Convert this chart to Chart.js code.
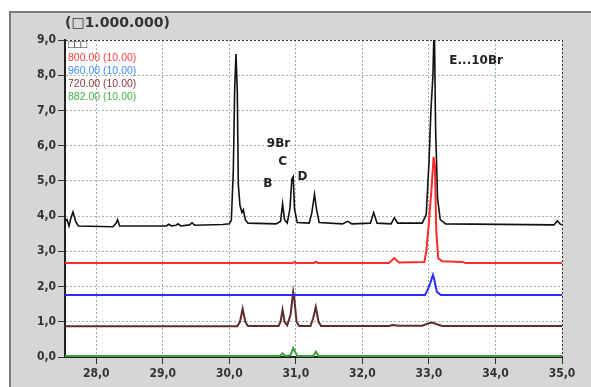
<!DOCTYPE html>
<html>
<head>
<meta charset="utf-8">
<script src="https://cdn.jsdelivr.net/npm/chart.js@4/dist/chart.umd.min.js"></script>
<style>
    html, body { margin: 0; padding: 0; background: #fff; }
    #chart { display: block; }
</style>
</head>
<body>
<canvas id="chart" width="591" height="387"></canvas>
<script>
/* ── Data (intensity in units of 1.000.000, retention time in min) ── */
const xTicks = [28, 29, 30, 31, 32, 33, 34, 35];
const yTicks = [0, 1, 2, 3, 4, 5, 6, 7, 8, 9];

// TIC (black)
const ticX = [27.53, 27.56, 27.59, 27.62, 27.65, 27.69, 27.73, 28.25, 28.30, 28.32, 28.35,
    29.05, 29.09, 29.13, 29.20, 29.23, 29.27, 29.40, 29.44, 29.48, 29.90, 30.00, 30.03,
    30.06, 30.08, 30.10, 30.12, 30.135, 30.16, 30.19, 30.21, 30.24, 30.28, 30.70, 30.77,
    30.80, 30.83, 30.87, 30.91, 30.94, 30.96, 30.98, 31.02, 31.20, 31.24, 31.28, 31.31,
    31.35, 31.70, 31.78, 31.84, 32.12, 32.17, 32.22, 32.43, 32.48, 32.53, 32.90, 32.96,
    33.00, 33.03, 33.06, 33.08, 33.10, 33.13, 33.17, 33.25, 34.88, 34.93, 34.97, 35.00];
const ticY = [3.86, 3.90, 3.72, 3.95, 4.12, 3.85, 3.72, 3.70, 3.80, 3.90, 3.72,
    3.72, 3.77, 3.72, 3.74, 3.78, 3.72, 3.75, 3.81, 3.74, 3.76, 3.78, 3.88,
    5.30, 7.60, 8.60, 7.50, 4.90, 4.30, 4.10, 4.18, 3.90, 3.80, 3.78, 3.85,
    4.35, 3.90, 3.80, 4.20, 5.05, 5.12, 4.20, 3.82, 3.80, 4.10, 4.62, 4.20,
    3.82, 3.78, 3.85, 3.78, 3.80, 4.10, 3.80, 3.78, 3.95, 3.80, 3.80, 4.05,
    5.50, 7.00, 8.00, 9.60, 6.50, 4.50, 3.90, 3.78, 3.75, 3.87, 3.78, 3.75];

// m/z 800.00 (red)
const mz800X = [27.53, 30.95, 30.98, 31.00, 31.27, 31.30, 31.33, 32.40, 32.48, 32.55,
    32.93, 32.96, 32.99, 33.04, 33.07, 33.09, 33.11, 33.14, 33.20, 33.50, 33.55, 35.00];
const mz800Y = [2.67, 2.67, 2.70, 2.67, 2.67, 2.70, 2.67, 2.67, 2.81, 2.68,
    2.70, 3.00, 3.60, 4.80, 5.68, 5.40, 3.60, 2.80, 2.72, 2.70, 2.67, 2.67];

// m/z 960.00 (blue)
const mz960X = [27.53, 32.94, 32.98, 33.02, 33.06, 33.08, 33.12, 33.18, 35.00];
const mz960Y = [1.76, 1.76, 1.90, 2.10, 2.33, 2.20, 1.85, 1.76, 1.76];

// m/z 720.00 (brown)
const mz720X = [27.53, 30.12, 30.16, 30.20, 30.24, 30.28, 30.74, 30.77, 30.80, 30.83,
    30.87, 30.92, 30.96, 30.98, 31.01, 31.05, 31.22, 31.26, 31.30, 31.34, 31.38,
    32.40, 32.45, 32.55, 32.90, 33.00, 33.05, 33.12, 33.20, 35.00];
const mz720Y = [0.87, 0.87, 1.00, 1.37, 1.00, 0.88, 0.88, 1.00, 1.34, 1.00,
    0.90, 1.20, 1.85, 1.60, 1.00, 0.88, 0.88, 1.10, 1.42, 1.00, 0.88,
    0.88, 0.91, 0.89, 0.89, 0.96, 0.98, 0.93, 0.88, 0.88];

// m/z 882.00 (green)
const mz882X = [27.53, 30.76, 30.80, 30.84, 30.92, 30.96, 30.99, 31.02, 31.26, 31.30, 31.34, 35.00];
const mz882Y = [0.03, 0.03, 0.10, 0.03, 0.05, 0.25, 0.15, 0.03, 0.03, 0.15, 0.03, 0.03];

const legendLabels = ['\u25A1\u25A1\u25A1', '800.00 (10.00)', '960.00 (10.00)', '720.00 (10.00)', '882.00 (10.00)'];
const peakLabels = ['9Br', 'C', 'B', 'D', 'E...10Br'];
const peakLabelX = [30.74, 30.80, 30.58, 31.10, 33.71];
const peakLabelY = [6.05, 5.54, 4.91, 5.11, 8.41];

/* ── Styling ──────────────────────────────────────────────── */
const TEXT = '#333333';
const GRID = '#9bb3ae';
const TICK_FONT = { family: "'DejaVu Sans Condensed', 'DejaVu Sans', sans-serif", size: 12, weight: 'bold' };
const LEGEND_COLORS = ['#222222', '#ff3b3b', '#3a8cff', '#8b3a3a', '#44b044'];

function toPoints(xs, ys) {
    return xs.map((x, i) => ({ x, y: ys[i] }));
}

function line(label, xs, ys, color, width) {
    return {
        label,
        data: toPoints(xs, ys),
        borderColor: color,
        borderWidth: width,
        pointRadius: 0,
        tension: 0,
        fill: false,
    };
}

const fmt = v => Number(v).toFixed(1).replace('.', ',');

// gray panel + white plot area behind the grid, texts on top
const frame = {
    id: 'frame',
    beforeDraw(chart) {
        const { ctx, chartArea: a } = chart;
        ctx.save();
        ctx.fillStyle = '#ffffff';
        ctx.fillRect(0, 0, chart.width, chart.height);
        ctx.fillStyle = '#d6d6d6';
        ctx.fillRect(9, 11, chart.width, chart.height);
        ctx.strokeStyle = '#7c7c7c';
        ctx.lineWidth = 2;
        ctx.beginPath();
        ctx.moveTo(10, chart.height);
        ctx.lineTo(10, 12);
        ctx.lineTo(chart.width, 12);
        ctx.stroke();
        ctx.fillStyle = '#ffffff';
        ctx.fillRect(a.left, a.top, a.right - a.left, a.bottom - a.top);
        ctx.restore();
    },
    afterDraw(chart) {
        const { ctx, chartArea: a, scales } = chart;
        ctx.save();
        ctx.textBaseline = 'middle';

        ctx.fillStyle = TEXT;
        ctx.font = "bold 14px 'DejaVu Sans', sans-serif";
        ctx.textAlign = 'left';
        ctx.fillText('(\u25A11.000.000)', 65, 23);

        ctx.font = "10.5px 'Liberation Sans', sans-serif";
        legendLabels.forEach((t, i) => {
            ctx.fillStyle = LEGEND_COLORS[i];
            ctx.fillText(t, a.left + 3, a.top + 5 + i * 13);
        });

        ctx.fillStyle = '#222222';
        ctx.font = "bold 12px 'DejaVu Sans', sans-serif";
        ctx.textAlign = 'center';
        peakLabels.forEach((t, i) => {
            ctx.fillText(t, scales.x.getPixelForValue(peakLabelX[i]), scales.y.getPixelForValue(peakLabelY[i]));
        });
        ctx.restore();
    },
};

new Chart(document.getElementById('chart'), {
    type: 'line',
    data: {
        datasets: [
            line('TIC', ticX, ticY, '#111111', 1.6),
            line('800.00', mz800X, mz800Y, '#ff2b2b', 2),
            line('960.00', mz960X, mz960Y, '#2b2bff', 2),
            line('720.00', mz720X, mz720Y, '#5e2c2c', 2),
            line('882.00', mz882X, mz882Y, '#3f9f3f', 2),
        ],
    },
    options: {
        responsive: false,
        animation: false,
        events: [],
        layout: { padding: { top: 40, right: 29, left: 0, bottom: 0 } },
        plugins: {
            legend: { display: false },
            tooltip: { enabled: false },
        },
        scales: {
            x: {
                type: 'linear',
                min: 27.53,
                max: 35,
                afterBuildTicks: s => { s.ticks = xTicks.map(v => ({ value: v })); },
                afterFit: s => { s.height = 30; },
                ticks: { callback: fmt, color: TEXT, font: TICK_FONT, padding: 3, maxRotation: 0, autoSkip: false },
                grid: {
                    color: c => (c.tick && c.tick.value === 35 ? '#333333' : GRID),
                    tickColor: '#333333',
                    tickLength: 7,
                    tickBorderDash: [],
                },
                border: { color: '#222222', width: 2, dash: [2, 2] },
            },
            y: {
                min: 0,
                max: 9,
                afterBuildTicks: s => { s.ticks = yTicks.map(v => ({ value: v })); },
                afterFit: s => { s.width = 65; },
                ticks: { callback: fmt, color: TEXT, font: TICK_FONT, padding: 2 },
                grid: {
                    color: c => (c.tick && c.tick.value === 9 ? '#333333' : GRID),
                    tickColor: '#333333',
                    tickLength: 7,
                    tickBorderDash: [],
                },
                border: { color: '#222222', width: 2, dash: [2, 2] },
            },
        },
    },
    plugins: [frame],
});
</script>
</body>
</html>
